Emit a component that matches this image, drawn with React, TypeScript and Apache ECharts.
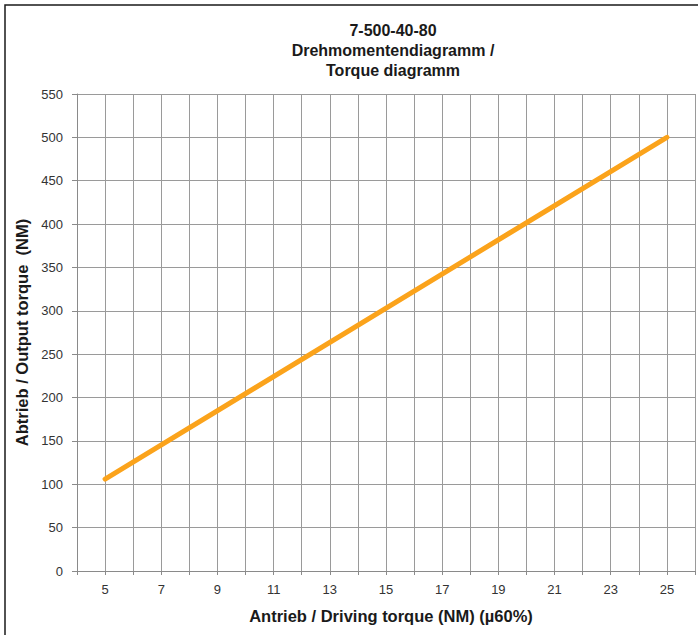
import React, { useEffect, useRef } from "react";
import * as echarts from "echarts";

const titleLines = ["7-500-40-80", "Drehmomentendiagramm /", "Torque diagramm"];
const xAxisName = "Antrieb / Driving torque (NM) (µ60%)";
const yAxisName = "Abtrieb / Output torque  (NM)";
const drivingTorque = [5, 25];
const outputTorque = [106, 500];
const xMin = 4;
const xMax = 26;
const yMin = 0;
const yMax = 550;
const yStep = 50;

const FONT = "'Liberation Sans', Arial, Helvetica, sans-serif";
const GRID = "#9a9a9a";

export default function App() {
  const ref = useRef<HTMLDivElement>(null);
  useEffect(() => {
    if (!ref.current) return;
    const chart = echarts.init(ref.current, undefined, { renderer: "svg" });
    chart.setOption({
      animation: false,
      backgroundColor: "#ffffff",
      textStyle: { fontFamily: FONT },
      title: {
        text: titleLines.join("\n"),
        left: 388,
        top: 15,
        textAlign: "center",
        textStyle: {
          fontFamily: FONT,
          fontSize: 16,
          fontWeight: "bold",
          color: "#1a1a1a",
          lineHeight: 20,
        },
      },
      graphic: [
        {
          type: "rect",
          shape: { x: 5, y: 5, width: 900, height: 900 },
          style: { fill: "none", stroke: "#1a1a1a", lineWidth: 1.5 },
          silent: true,
          z: 100,
        },
      ],
      grid: { left: 77, right: 0, top: 94, bottom: 64, containLabel: false },
      xAxis: {
        type: "value",
        min: xMin,
        max: xMax,
        interval: 1,
        name: xAxisName,
        nameLocation: "middle",
        nameGap: 36,
        nameTextStyle: { fontFamily: FONT, fontSize: 16.5, fontWeight: "bold", color: "#1a1a1a", padding: [0, 0, 0, 10] },
        axisLine: { show: true, lineStyle: { color: "#8a8a8a", width: 1 } },
        axisTick: { show: true, length: 4, lineStyle: { color: "#8a8a8a" } },
        axisLabel: {
          margin: 12,
          fontSize: 13,
          color: "#333",
          fontFamily: FONT,
          formatter: (v: number) => (Math.round(v) % 2 === 1 ? String(v) : ""),
        },
        splitLine: { show: true, lineStyle: { color: GRID, width: 1 } },
      },
      yAxis: {
        type: "value",
        min: yMin,
        max: yMax,
        interval: yStep,
        name: yAxisName,
        nameLocation: "middle",
        nameGap: 47,
        nameTextStyle: { fontFamily: FONT, fontSize: 16.5, fontWeight: "bold", color: "#1a1a1a" },
        axisLine: { show: true, lineStyle: { color: "#8a8a8a", width: 1 } },
        axisTick: { show: true, length: 5, lineStyle: { color: "#8a8a8a" } },
        axisLabel: { margin: 14, fontSize: 13, color: "#333", fontFamily: FONT },
        splitLine: { show: true, lineStyle: { color: GRID, width: 1 } },
      },
      series: [
        {
          type: "line",
          data: drivingTorque.map((x, i) => [x, outputTorque[i]]),
          showSymbol: false,
          symbol: "none",
          lineStyle: { color: "#fba31b", width: 5, cap: "round" },
          z: 5,
        },
      ],
    });
    return () => chart.dispose();
  }, []);
  return (
    <div
      ref={ref}
      style={{ position: "fixed", left: 0, top: 0, width: 698, height: 635, background: "#fff" }}
    />
  );
}
